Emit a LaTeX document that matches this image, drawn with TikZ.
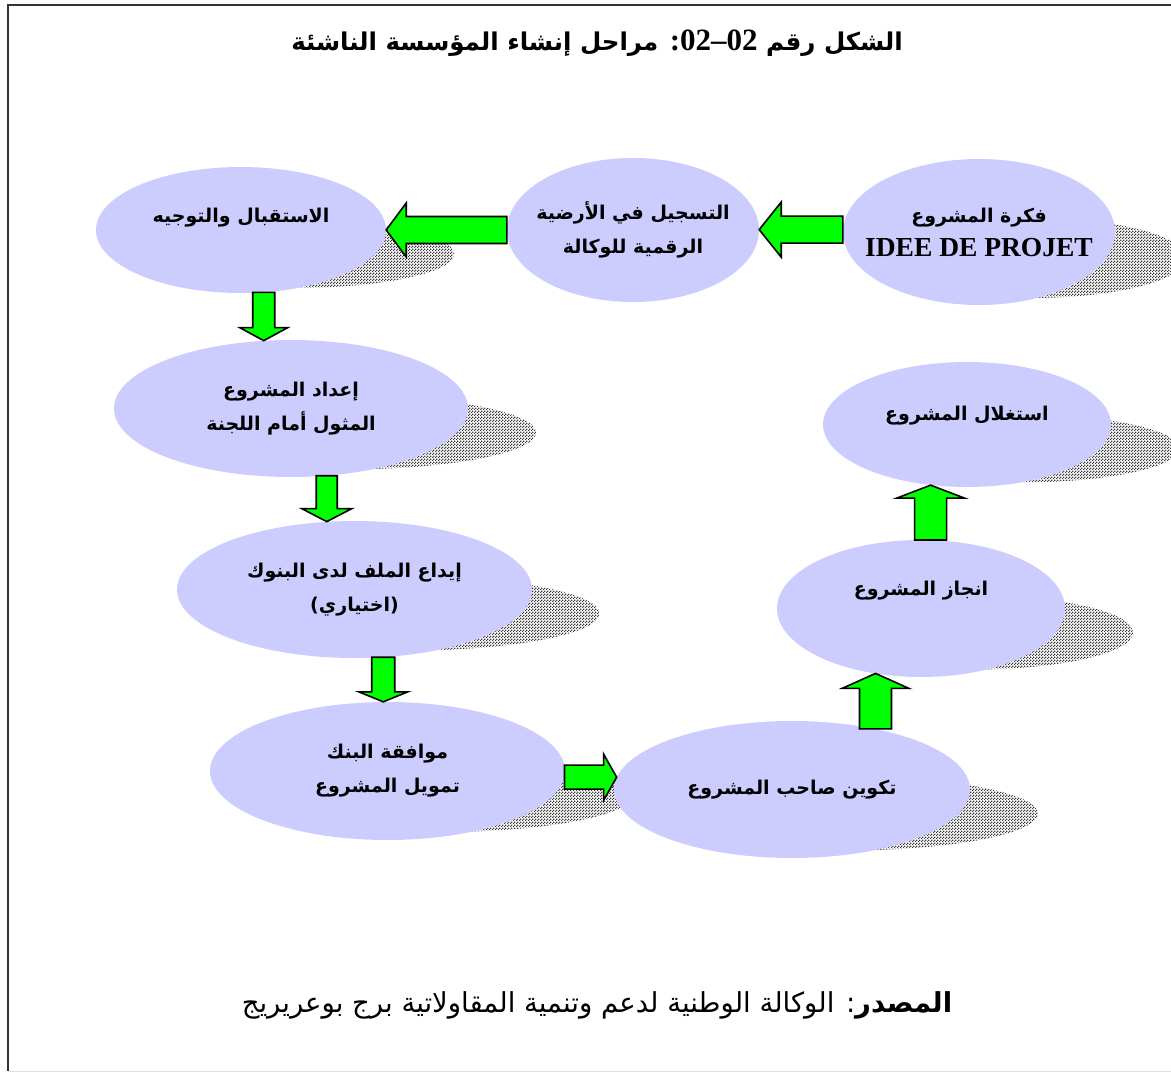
\documentclass[tikz,border=0pt]{standalone}
\usepackage{fontspec}
\usepackage{tikz}
\usetikzlibrary{shapes,arrows,positioning,calc,patterns,backgrounds}
\TeXXeTstate=1
\newfontfamily\arabicfont[Script=Arabic]{DejaVu Sans}
\newfontfamily\latinfont{Liberation Serif}
\definecolor{stagefill}{HTML}{CCCCFF}
\definecolor{arrowgreen}{HTML}{00FF00}
\definecolor{framegray}{HTML}{333333}
\pgfdeclarepatternformonly{finechecker}{\pgfqpoint{0pt}{0pt}}{\pgfqpoint{3pt}{3pt}}{\pgfqpoint{3pt}{3pt}}{%
  \pgfpathrectangle{\pgfqpoint{0pt}{0pt}}{\pgfqpoint{1.5pt}{1.5pt}}%
  \pgfpathrectangle{\pgfqpoint{1.5pt}{1.5pt}}{\pgfqpoint{1.5pt}{1.5pt}}%
  \pgfusepath{fill}}
\tikzstyle{stage} = [ellipse, fill=stagefill, inner sep=0pt]
\tikzstyle{stagetext} = [font=\arabicfont\bfseries\fontsize{19}{34}\selectfont, align=center]
\tikzstyle{shadowfill} = [pattern=finechecker, pattern color=gray!45!black]
\tikzstyle{greenarrow} = [fill=arrowgreen, draw=black, line width=1.6pt, line join=miter]
% tail, tip, shaft half width, head half width, head length
\newcommand{\blockarrow}[5]{%
  \coordinate (headbase) at ($(#2)!#5!(#1)$);
  \draw[greenarrow] ($(#1)!#3!90:(#2)$) -- ($(headbase)!#3!-90:(#1)$) -- ($(headbase)!#4!-90:(#1)$) -- (#2)
    -- ($(headbase)!#4!90:(#1)$) -- ($(headbase)!#3!90:(#1)$) -- ($(#1)!#3!-90:(#2)$) -- cycle;}

\begin{document}
\begin{tikzpicture}[x=1pt, y=-1pt]
  \useasboundingbox (0,0) rectangle (1171,1073);
  \draw[framegray, line width=2.4pt] (1180,5) -- (8,5) -- (8,1071);
  \draw[gray!25, line width=1pt] (8,1071) -- (1180,1071);
  \node[font=\arabicfont\bfseries\fontsize{24.5}{28}\selectfont] (title) at (597,43)
    {\beginR الشكل رقم {\latinfont\fontsize{31}{32}\selectfont\beginL 02–02\endL:} مراحل إنشاء المؤسسة الناشئة\endR};

  % stages
  \node[stage, minimum width=272, minimum height=146,
    label={[stagetext]center:{\beginR فكرة المشروع\endR\\ {\latinfont\fontsize{27.5}{30}\selectfont IDEE DE PROJET}}}] (idea) at (979,232) {};
  \node[stage, minimum width=252, minimum height=144, node distance=346pt, left of=idea, yshift=2,
    label={[stagetext]center:{\beginR التسجيل في الأرضية\endR\\ \beginR الرقمية للوكالة\endR}}] (register) {};
  \node[stage, minimum width=290, minimum height=126, node distance=392pt, left of=register,
    label={[stagetext, yshift=12]center:{\beginR الاستقبال والتوجيه\endR}}] (reception) {};
  \node[stage, minimum width=354, minimum height=137, node distance=178.5pt, below of=reception, xshift=50,
    label={[stagetext]center:{\beginR إعداد المشروع\endR\\ \beginR المثول أمام اللجنة\endR}}] (prepare) {};
  \node[stage, minimum width=355, minimum height=137, node distance=181pt, below of=prepare, xshift=63.5,
    label={[stagetext]center:{\beginR إيداع الملف لدى البنوك\endR\\ \beginR (اختياري)\endR}}] (deposit) {};
  \node[stage, minimum width=355, minimum height=138, node distance=181.5pt, below of=deposit, xshift=33,
    label={[stagetext]center:{\beginR موافقة البنك\endR\\ \beginR تمويل المشروع\endR}}] (bank) {};
  \node[stage, minimum width=356, minimum height=137, node distance=404.5pt, right of=bank, yshift=-18.5,
    label={[stagetext]center:{\beginR تكوين صاحب المشروع\endR}}] (training) {};
  \node[stage, minimum width=288, minimum height=137, node distance=181pt, above of=training, xshift=129,
    label={[stagetext, yshift=18]center:{\beginR انجاز المشروع\endR}}] (realize) {};
  \node[stage, minimum width=288, minimum height=125, node distance=184pt, above of=realize, xshift=46,
    label={[stagetext, yshift=9]center:{\beginR استغلال المشروع\endR}}] (exploit) {};

  % shadows
  \begin{scope}[on background layer]
    \fill[shadowfill] ([shift={(52,26)}]idea.center) ellipse [x radius=155, y radius=40];
    \fill[shadowfill] ([shift={(52,24)}]reception.center) ellipse [x radius=161, y radius=34];
    \fill[shadowfill] ([shift={(52,24)}]prepare.center) ellipse [x radius=193, y radius=37];
    \fill[shadowfill] ([shift={(52,24)}]deposit.center) ellipse [x radius=193, y radius=37];
    \fill[shadowfill] ([shift={(52,24)}]bank.center) ellipse [x radius=193, y radius=37];
    \fill[shadowfill] ([shift={(52,24)}]training.center) ellipse [x radius=194, y radius=37];
    \fill[shadowfill] ([shift={(52,24)}]realize.center) ellipse [x radius=160, y radius=37];
    \fill[shadowfill] ([shift={(52,24)}]exploit.center) ellipse [x radius=160, y radius=34];
  \end{scope}

  % arrows
  \blockarrow{idea.179}{register.east |- idea.179}{13.5pt}{27.5pt}{22pt}
  \blockarrow{register.west}{reception.east |- register.west}{13.5pt}{27pt}{20pt}
  \blockarrow{reception.-70.5}{prepare.112.5 -| reception.-70.5}{11pt}{24pt}{13pt}
  \blockarrow{prepare.-62.5}{deposit.112.9 -| prepare.-62.5}{10.5pt}{25pt}{13pt}
  \blockarrow{deposit.-67.9}{bank.94.6 -| deposit.-67.9}{11.5pt}{24.5pt}{10pt}
  \blockarrow{bank.-2.6}{training.176.6 |- bank.-2.6}{12pt}{23pt}{13pt}
  \blockarrow{training.36.6}{realize.-126 -| training.36.6}{16pt}{33.5pt}{15pt}
  \blockarrow{realize.82.5}{exploit.-121.5 -| realize.82.5}{16pt}{34pt}{13pt}

  % source
  \node[font=\arabicfont\fontsize{27.5}{30}\selectfont] (source) at (597,1005)
    {\beginR{\bfseries المصدر}: الوكالة الوطنية لدعم وتنمية المقاولاتية برج بوعريريج\endR};
\end{tikzpicture}
\end{document}
